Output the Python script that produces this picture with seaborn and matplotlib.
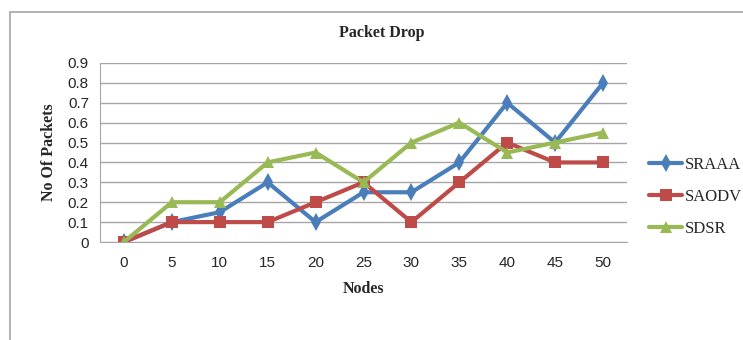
import numpy as np
import pandas as pd
import matplotlib
matplotlib.use("Agg")
import matplotlib.pyplot as plt
from matplotlib.patches import Rectangle
import seaborn as sns

nodes = [0, 5, 10, 15, 20, 25, 30, 35, 40, 45, 50]
sraaa = [0, 0.1, 0.15, 0.3, 0.1, 0.25, 0.25, 0.4, 0.7, 0.5, 0.8]
saodv = [0, 0.1, 0.1, 0.1, 0.2, 0.3, 0.1, 0.3, 0.5, 0.4, 0.4]
sdsr = [0, 0.2, 0.2, 0.4, 0.45, 0.3, 0.5, 0.6, 0.45, 0.5, 0.55]
series = ["SRAAA", "SAODV", "SDSR"]
yticks = [0, 0.1, 0.2, 0.3, 0.4, 0.5, 0.6, 0.7, 0.8, 0.9]

colors = {"SRAAA": "#4a7ebb", "SAODV": "#be4b48", "SDSR": "#98b954"}
markers = {"SRAAA": "d", "SAODV": "s", "SDSR": "^"}

df = pd.concat([
    pd.DataFrame({"Nodes": nodes, "val": v, "series": s})
    for s, v in zip(series, [sraaa, saodv, sdsr])
])
df["pos"] = df["Nodes"].map({n: i for i, n in enumerate(nodes)})

sns.set_style("white")
plt.rcParams["font.family"] = ["Liberation Sans", "DejaVu Sans"]

W, H = 743, 340
fig = plt.figure(figsize=(W / 100, H / 100), dpi=100)
fig.patches.append(Rectangle((10 / W, -0.1), 1.2, 1 - 12 / H + 0.1,
                             transform=fig.transFigure, fill=False,
                             edgecolor="#a6a6a6", linewidth=1.2))

ax = fig.add_axes([100 / W, 1 - 242 / H, 527 / W, 179 / H])
sns.lineplot(data=df, x="pos", y="val", hue="series", style="series",
             palette=colors, markers=markers, dashes=False, linewidth=3,
             markersize=9, markeredgewidth=0, ax=ax, legend=False)

ax.set_xlim(-0.5, len(nodes) - 0.5)
ax.set_ylim(0, 0.9)
ax.set_xticks(range(len(nodes)))
ax.set_xticklabels([str(n) for n in nodes], fontsize=11)
ax.set_yticks(yticks)
ax.set_yticklabels(["0"] + [f"{t:.1f}" for t in yticks[1:]], fontsize=11)
ax.grid(axis="y", color="#a6a6a6", linewidth=1.0)
ax.set_axisbelow(True)
for side in ["top", "right"]:
    ax.spines[side].set_visible(False)
ax.spines["left"].set_color("#a6a6a6")
ax.spines["bottom"].set_color("#a6a6a6")
ax.tick_params(axis="y", length=4, color="#a6a6a6", pad=4)
ax.tick_params(axis="x", length=0, pad=10)

serif = ["Liberation Serif", "DejaVu Serif"]
ax.set_xlabel("Nodes", fontsize=11.5, fontweight="bold", family=serif, labelpad=8)
ax.set_ylabel("No Of Packets", fontsize=11.5, fontweight="bold", family=serif, labelpad=8)
fig.text(382 / W, 1 - 33 / H, "Packet Drop", ha="center", va="center",
         fontsize=11.5, fontweight="bold", family=serif)

handles = [plt.Line2D([], [], color=colors[s], marker=markers[s],
                      markersize=9, markeredgewidth=0, linewidth=3) for s in series]
fig.legend(handles, series, loc="center left", bbox_to_anchor=(634 / W, 1 - 197 / H),
           frameon=False, handlelength=2.0, handletextpad=0.15, labelspacing=0.95,
           prop={"family": serif, "size": 12})

fig.savefig("out.png", dpi=100)
